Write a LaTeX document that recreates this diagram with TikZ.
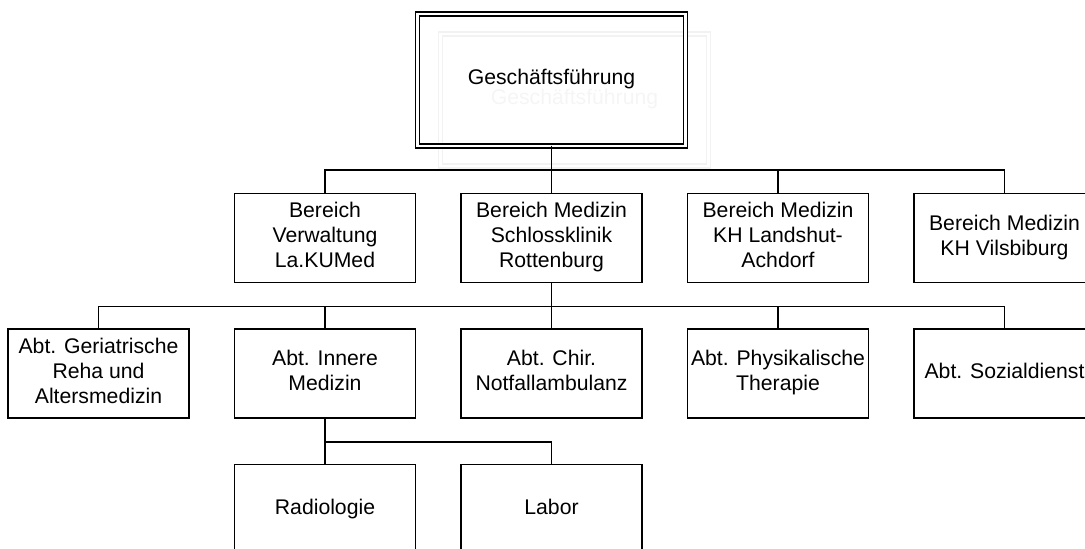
\documentclass[tikz,border=0pt]{standalone}
\usepackage{fontspec}
\setmainfont{Liberation Sans}
\usetikzlibrary{positioning, calc}

\begin{document}
\begin{tikzpicture}[x=0.5pt, y=-0.5pt, line width=0.85pt,
    every node/.style={draw, rectangle, align=center, inner sep=0pt, outer sep=0pt, minimum width=90.5pt, minimum height=44.5pt, font=\fontsize{10.6}{12.5}\selectfont},
    chief/.style={double, line width=0.75pt, double distance=1.3pt, minimum width=134pt, minimum height=66pt},
    ghost/.style={chief, draw=black!5, text=black!4}]

    % Parameters
    \def\dx{226.5} % distance between boxes in one row
    \def\drop{24} % length from box bottom to the bus line

    \clip (0,0) rectangle (1085,549);
    \useasboundingbox (0,0) rectangle (1085,549);

    % Top node (with its faint copy behind)
    \node[ghost] (G0) at (574.5,100) {\strut Geschäftsführung\strut};
    \node[chief] (G) at (551.5,80) {\strut Geschäftsführung\strut};

    % Bereiche
    \foreach \txt [count=\i] in {{Bereich\\Verwaltung\\La.KUMed}, {Bereich Medizin\\Schlossklinik\\Rottenburg}, {Bereich Medizin\\KH Landshut-\\Achdorf}, {Bereich Medizin\\KH Vilsbiburg}} {
        \node (B\i) at ({325+\dx*(\i-1)},238) {\strut\txt\strut};
        \draw (G.south) -- ++(0,\drop) -| (B\i.north);
    }

    % Abteilungen under Schlossklinik
    \foreach \txt [count=\i] in {{Abt. Geriatrische\\Reha und\\Altersmedizin}, {Abt. Innere\\Medizin}, {Abt. Chir.\\Notfallambulanz}, {Abt. Physikalische\\Therapie}, {Abt. Sozialdienst}} {
        \node (A\i) at ({98.5+\dx*(\i-1)},373.5) {\strut\txt\strut};
        \draw (B2.south) -- ++(0,\drop) -| (A\i.north);
    }

    % Units under Innere Medizin
    \foreach \txt [count=\i] in {Radiologie, Labor} {
        \node (U\i) at ({325+\dx*(\i-1)},509) {\strut\txt\strut};
        \draw (A2.south) -- ++(0,\drop) -| (U\i.north);
    }

\end{tikzpicture}
\end{document}
